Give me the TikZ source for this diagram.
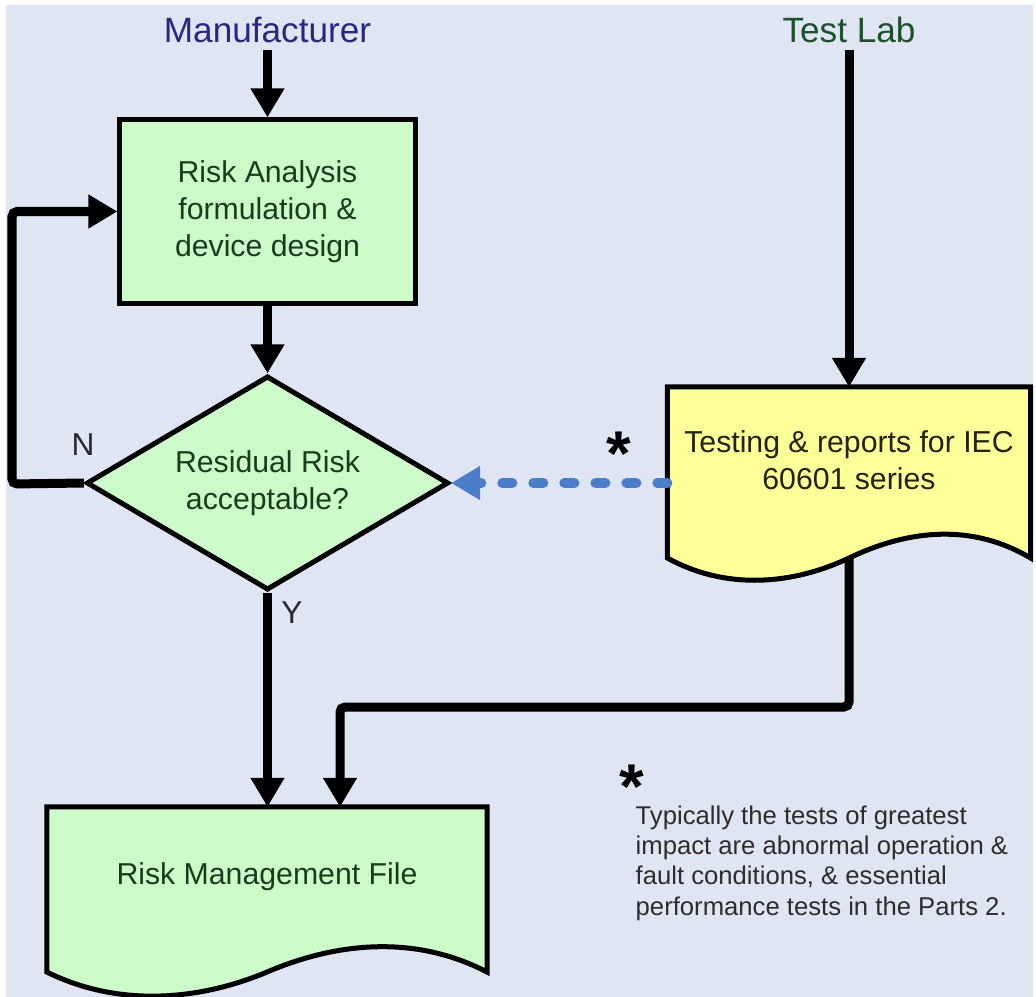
\documentclass[tikz,border=0pt]{standalone}
\usepackage{fontspec}
\setmainfont{Liberation Sans}
\usetikzlibrary{shapes.geometric,positioning,arrows.meta,calc}

\definecolor{paneBg}{RGB}{223,229,242}
\definecolor{boxGreen}{RGB}{204,250,200}
\definecolor{docYellow}{RGB}{255,255,153}
\definecolor{linkBlue}{RGB}{74,126,200}
\definecolor{textGreen}{RGB}{25,60,30}
\definecolor{mfrBlue}{RGB}{40,40,130}
\definecolor{labGreen}{RGB}{30,80,45}
\definecolor{noteGrey}{RGB}{45,45,45}

\begin{document}
\begin{tikzpicture}[x=0.01cm,y=-0.01cm,
  boxfont/.style={font=\fontsize{8.6}{10.5}\selectfont},
  stepbox/.style={draw,line width=0.05cm,fill=boxGreen,minimum width=2.95cm,minimum height=1.83cm,inner sep=0,align=center,text=textGreen,boxfont},
  decision/.style={diamond,aspect=1.7,draw,line width=0.05cm,fill=boxGreen,minimum width=3.62cm,minimum height=2.14cm,inner sep=0,align=center,text=textGreen,boxfont},
  docbox/.style={inner sep=0,outer sep=0},
  docline/.style={draw,line width=0.05cm,line join=miter},
  flow/.style={draw,line width=0.09cm,rounded corners=0.05cm,-{Triangle[length=0.29cm,width=0.32cm]}},
  dashlink/.style={draw=linkBlue,line width=0.1cm,line cap=round,dash pattern=on 0.1cm off 0.21cm,-{Triangle[length=0.29cm,width=0.32cm,fill=linkBlue]}},
  lane/.style={font=\fontsize{10}{12}\selectfont,inner sep=0.06cm},
  yesno/.style={font=\fontsize{9}{11}\selectfont,text={rgb,255:red,40;green,40;blue,50}},
  starmark/.style={font=\fontsize{18}{18}\bfseries\selectfont,inner sep=0,text height=12.8pt,text depth=-7.4pt}]
\useasboundingbox (0,0) rectangle (1036,997);
\fill[white] (0,0) rectangle (1036,997);
\fill[paneBg] (6,5) rectangle (1033,997); % background

% lanes
\node[lane,text=mfrBlue] (mfr) at (267.5,30) {Manufacturer};
\node[lane,text=labGreen] (lab) at (849,30) {Test Lab};

% green boxes
\node[stepbox] (ra) at (267.5,211.5) {Risk Analysis\\formulation \&\\device design};
\node[decision] (dec) at (267.5,483) {Residual Risk\\acceptable?};

% documents
\node[docbox,minimum width=4.4cm,minimum height=1.65cm] (rmf) at (267,889.5) {};
\draw[docline,fill=boxGreen] (rmf.north west) -- (rmf.north east) -- (rmf.south east)
  .. controls +(-77,-40) and +(63,-27) .. (rmf.south)
  .. controls +(-67,28) and +(73,36) .. (rmf.south west) -- cycle;
\node[boxfont,text=textGreen] (rmftxt) at (267,877) {Risk Management File};

\node[docbox,minimum width=3.63cm,minimum height=1.71cm] (tst) at (849,472.5) {};
\draw[docline,fill=docYellow] (tst.north west) -- (tst.north east) -- (tst.south east)
  .. controls +(-64,-38) and +(52,-25) .. (tst.south)
  .. controls +(-55,26) and +(60,33) .. (tst.south west) -- cycle;
\node[boxfont,align=center,text={rgb,255:red,35;green,35;blue,10}] (tsttxt) at (849,460) {Testing \& reports for IEC\\60601 series};

% connectors
\coordinate (loop) at (12,484);
\coordinate (bend) at (340,707);
\draw[flow] (mfr) -- (ra);
\draw[flow] (lab) -- (tst);
\draw[flow] (ra) -- (dec);
\draw[flow] (dec.west) -- (loop) |- (ra.west);
\draw[flow] (dec) -- (dec |- rmf.north);
\draw[flow] (tst.south) |- (bend) -- (bend |- rmf.north);
\draw[dashlink] (tst.west |- dec.east) -- (dec.east);

% labels
\node[yesno] (no) at (83,445) {N};
\node[yesno] (yes) at (292,613) {Y};
\node[starmark] (star) at (619,453) {*};
\node[starmark] (notestar) at (632,786) {*};
\node[anchor=north west,inner sep=0,align=left,text=noteGrey,font=\fontsize{7.3}{8.6}\selectfont] (note) at (635,805)
  {Typically the tests of greatest\\impact are abnormal operation \&\\fault conditions, \& essential\\performance tests in the Parts 2.};
\end{tikzpicture}
\end{document}
